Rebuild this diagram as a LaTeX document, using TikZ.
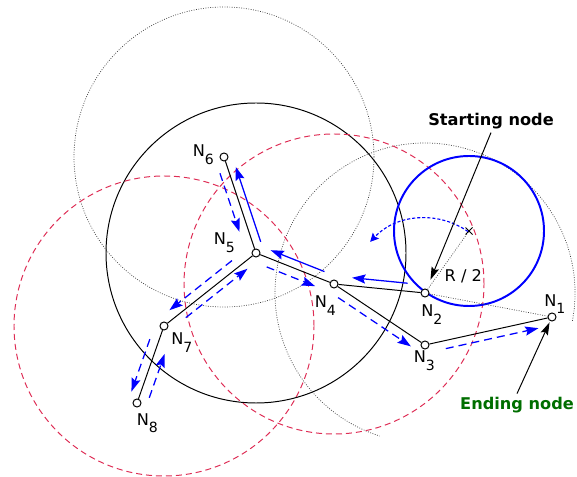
\documentclass[tikz,border=0pt]{standalone}
\usepackage{fontspec}
\setmainfont{DejaVu Sans}
\usetikzlibrary{arrows.meta,calc,backgrounds}

\definecolor{routeblue}{RGB}{0,0,255}
\definecolor{rangered}{RGB}{222,45,85}
\definecolor{endgreen}{RGB}{0,110,0}

% node label N_k
\newcommand{\nlab}[1]{N\raisebox{-5.3pt}{\fontsize{10}{10}\selectfont #1}}
% arrow running beside the edge from #2 to #3, on its right hand side
\newcommand{\hop}[6]{%
  \draw[#1] ($(#2)!#4!(#3)!#6!-90:(#3)$) -- ($(#2)!#5!(#3)!#6!-90:(#3)$);}

\begin{document}
\begin{tikzpicture}[
  x=0.025cm, y=0.025cm,
  font=\fontsize{11.5}{13.8}\selectfont,
  sensor/.style={circle, draw, fill=white, line width=0.7pt, inner sep=0pt, minimum size=5.7pt},
  nlabel/.style={anchor=base west, inner sep=0pt},
  link/.style={line width=0.7pt},
  hint/.style={black!75, line width=0.5pt, dash pattern=on 0.6pt off 1.1pt},
  reach/.style={rangered, line width=0.7pt, dash pattern=on 4.3pt off 2.8pt},
  solidhop/.style={routeblue, line width=0.9pt, -{Stealth[length=9.5pt,width=6.5pt,inset=1.5pt]}},
  dashhop/.style={solidhop, dash pattern=on 5.7pt off 3.6pt},
  turn/.style={routeblue, line width=0.8pt, dash pattern=on 2.2pt off 1.4pt,
               -{Stealth[length=6pt,width=6pt,inset=1pt]}},
  pointer/.style={line width=0.7pt, -{Stealth[length=9pt,width=5.5pt,inset=1.5pt]}},
  callout/.style={font=\fontsize{11.5}{13.8}\selectfont\bfseries, inner sep=2pt, anchor=base},
]
  \useasboundingbox (0,0) rectangle (577,-477);

  % sensors
  \node[sensor] (n1) at (552,-317) {};
  \node[sensor] (n2) at (425,-293) {};
  \node[sensor] (n3) at (425,-345) {};
  \node[sensor] (n4) at (334,-284) {};
  \node[sensor] (n5) at (256,-253) {};
  \node[sensor] (n6) at (224,-157) {};
  \node[sensor] (n7) at (164,-326) {};
  \node[sensor] (n8) at (137,-403) {};
  \coordinate (ctr) at (469,-231);

  \node[nlabel] (l1) at (544,-306.5) {\nlab{1}};
  \node[nlabel] (l2) at (421,-317) {\nlab{2}};
  \node[nlabel] (l3) at (413.5,-363) {\nlab{3}};
  \node[nlabel] (l4) at (314.5,-308) {\nlab{4}};
  \node[nlabel] (l5) at (213.5,-245) {\nlab{5}};
  \node[nlabel] (l6) at (192.5,-157) {\nlab{6}};
  \node[nlabel] (l7) at (171,-345) {\nlab{7}};
  \node[nlabel] (l8) at (136.5,-425) {\nlab{8}};

  \node[callout] (start) at (491,-126) {Starting node};
  \node[callout, text=endgreen] (finish) at (517,-409) {Ending node};
  \node[anchor=base, inner sep=0pt] (half) at (463.3,-281.7) {R / 2};

  % radio ranges
  \begin{scope}[on background layer]
    \draw[hint] (n6) circle[radius=150];
    \draw[hint] ($(n2)+(-10.7:150)$) arc[start angle=-10.7, end angle=252.4, radius=150];
    \draw[link] (n5) circle[radius=150];
    \draw[reach] (n7) circle[radius=150];
    \draw[reach] (n4) circle[radius=150];
    \draw[routeblue, line width=1.4pt] (ctr) circle[radius=75];
  \end{scope}

  % edges
  \draw[link] (n6) -- (n5);
  \draw[link] (n5) -- (n4);
  \draw[link] (n4) -- (n2);
  \draw[link] (n4) -- (n3);
  \draw[link] (n3) -- (n1);
  \draw[link] (n5) -- (n7);
  \draw[link] (n7) -- (n8);
  \draw[hint] (n2) -- (n1);
  \draw[hint] (n2) -- (ctr);
  \draw[line width=0.6pt] ($(ctr)+(-3.5,-3.5)$) -- ($(ctr)+(3.5,3.5)$)
                          ($(ctr)+(-3.5,3.5)$) -- ($(ctr)+(3.5,-3.5)$);

  % route
  \hop{solidhop}{n2}{n4}{0.2}{0.81}{5.7pt}
  \hop{solidhop}{n4}{n5}{0.16}{0.85}{5.7pt}
  \hop{solidhop}{n5}{n6}{0.09}{0.87}{5.7pt}
  \hop{dashhop}{n6}{n5}{0.14}{0.75}{6.4pt}
  \hop{dashhop}{n5}{n7}{0.2}{0.88}{6.4pt}
  \hop{dashhop}{n7}{n8}{0.21}{0.89}{6.4pt}
  \hop{dashhop}{n8}{n7}{0.11}{0.68}{7pt}
  \hop{dashhop}{n7}{n5}{0.19}{0.86}{5pt}
  \hop{dashhop}{n5}{n4}{0.18}{0.8}{6.4pt}
  \hop{dashhop}{n4}{n3}{0.1}{0.9}{6.4pt}
  \hop{dashhop}{n3}{n1}{0.15}{0.88}{5.7pt}
  \draw[turn] ($(n2)+(55:75)$) arc[start angle=55, end angle=137, radius=75];

  % call-outs
  \draw[pointer, shorten >=7pt] (start.south) -- (n2);
  \draw[pointer, shorten >=1pt] (finish.north) -- (n1);
\end{tikzpicture}
\end{document}
